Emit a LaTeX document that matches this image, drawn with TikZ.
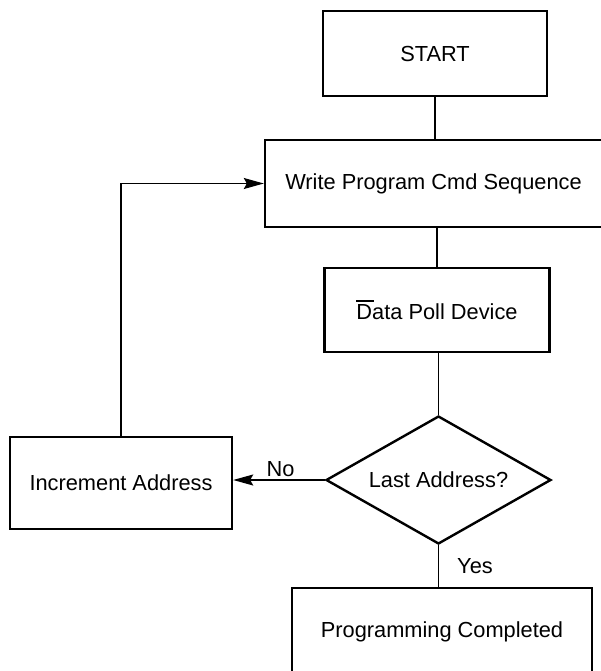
\documentclass[tikz,border=0pt]{standalone}
\usepackage{fontspec}
\setmainfont{Liberation Sans}
\usetikzlibrary{shapes.geometric,arrows.meta}
\tikzset{
  box/.style={draw=black, line width=2.4pt, rectangle, inner sep=0pt, align=center},
  decision/.style={draw=black, line width=2.4pt, diamond, aspect=1.76, inner sep=0pt, align=center},
  conn/.style={draw=black, line width=1.3pt},
  arr/.style={conn, -{Stealth[length=20pt,width=11pt,inset=3pt]}},
  lbl/.style={inner sep=0pt}
}
\begin{document}
\begin{tikzpicture}[x=1pt,y=-1pt,font=\fontsize{21.8}{26}\selectfont]
\useasboundingbox (0,0) rectangle (600,671);
\node[box, minimum width=224pt, minimum height=85pt] (start) at (435,53.5) {START};
\node[box, minimum width=337pt, minimum height=87pt] (write) at (433.5,183.5) {Write Program Cmd Sequence};
\node[box, minimum width=225pt, minimum height=84pt] (poll) at (437,310) {\makebox[0pt][l]{\rule[18pt]{18pt}{1.3pt}}Data Poll Device};
\node[decision, minimum width=225pt, minimum height=128pt] (dec) at (438.5,480) {Last Address?};
\node[box, minimum width=222pt, minimum height=92pt] (inc) at (121,483) {Increment Address};
\node[box, minimum width=300pt, minimum height=88pt] (done) at (442,632) {Programming Completed};
\node[lbl] (no) at (280.5,469) {No};
\node[lbl] (yes) at (475,566.5) {Yes};
\draw[conn] (start.south) -- (start.south |- write.north);
\draw[conn] (write.south -| poll.north) -- (poll.north);
\draw[conn] (poll.south -| dec.north) -- (dec.north);
\draw[conn] (dec.south) -- (dec.south |- done.north);
\draw[arr] (dec.west) -- (dec.west -| inc.east);
\draw[arr] (inc.north) |- (write.west);
\end{tikzpicture}
\end{document}
